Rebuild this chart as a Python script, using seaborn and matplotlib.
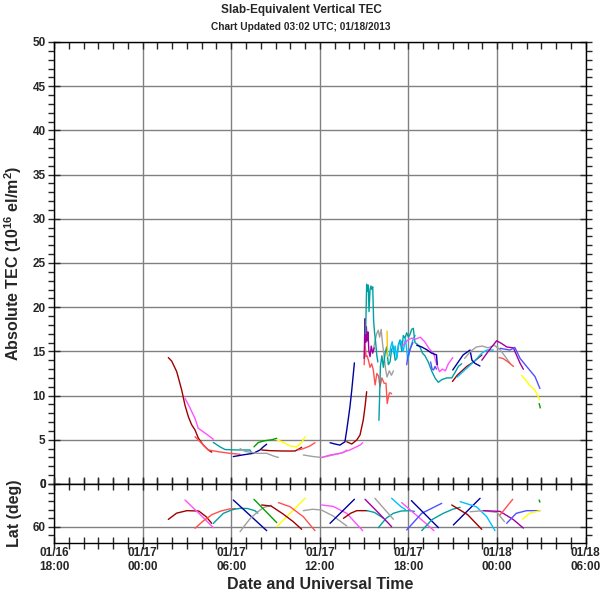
import numpy as np
import pandas as pd
import seaborn as sns
import matplotlib.pyplot as plt
from matplotlib.ticker import MultipleLocator, FixedLocator

# hours are counted from 01/17 00:00 UTC
x_ticks = [-6, 0, 6, 12, 18, 24, 30]
x_labels = ['01/16\n18:00', '01/17\n00:00', '01/17\n06:00', '01/17\n12:00',
            '01/17\n18:00', '01/18\n00:00', '01/18\n06:00']

# colours of the satellite tracks
colors = {'dkred': '#a00000', 'red': '#ff5050', 'pink': '#ff50ff', 'teal': '#00a0a0',
          'navy': '#0000a0', 'green': '#00a000', 'yellow': '#ffff00', 'gray': '#a0a0a0',
          'purple': '#a000a0', 'cyan': '#00c0ff', 'violet': '#5050ff', 'gold': '#ffc000'}

# ---- absolute TEC tracks ----
dkred1_h = [1.74, 1.97, 2.31, 2.65, 2.87, 3.1, 3.32, 3.55, 3.77, 4.11, 4.45, 4.68]
dkred1_tec = [14.3, 13.9, 12.7, 10.6, 8.9, 7.6, 6.7, 6.1, 5.2, 4.4, 3.85, 3.6]
pink1_h = [2.87, 3.21, 3.55, 3.77, 4.11, 4.56, 4.79]
pink1_tec = [9.7, 8.6, 7.4, 6.3, 5.9, 5.35, 5.05]
red1_h = [3.55, 4.0, 4.45, 5.13, 5.92, 6.6]
red1_tec = [5.35, 4.6, 3.85, 3.65, 3.47, 3.36]
teal1_h = [4.79, 5.24, 5.58, 6.37, 7.27, 7.39]
teal1_tec = [4.7, 4.2, 3.9, 3.85, 3.85, 3.47]
navy1_h = [6.14, 6.82, 7.5, 7.95, 8.17, 8.4]
navy1_tec = [3.1, 3.3, 3.47, 3.85, 4.2, 4.5]
gray1_h = [6.6, 6.93, 7.72, 8.4, 8.85, 9.19]
gray1_tec = [4.0, 3.7, 3.47, 3.47, 3.17, 3.0]
green1_h = [7.54, 7.84, 8.29, 8.74, 9.08]
green1_tec = [4.2, 4.7, 4.9, 5.0, 5.17]
yellow1_h = [9.08, 9.42, 9.98, 10.43, 10.77, 11.0]
yellow1_tec = [5.0, 4.8, 4.3, 4.2, 4.7, 5.35]
dkred2_h = [8.06, 8.63, 9.53, 10.32, 10.54, 10.77]
dkred2_tec = [3.85, 3.77, 3.73, 3.73, 3.92, 4.15]
red2_h = [10.54, 10.88, 11.33, 11.67]
red2_tec = [3.85, 4.0, 4.3, 4.67]
gray2_h = [10.88, 11.56, 12.13, 12.9, 13.59, 13.82]
gray2_tec = [3.28, 3.1, 3.0, 3.28, 3.55, 3.85]
pink2_h = [12.13, 12.69, 13.36, 14.04, 14.72, 14.9]
pink2_tec = [3.0, 3.28, 3.47, 3.85, 4.4, 4.67]
navy2_h = [12.69, 13.03, 13.36, 13.7, 13.82, 13.93, 14.04, 14.16, 14.27, 14.34]
navy2_tec = [4.67, 4.52, 4.4, 4.78, 6.1, 7.4, 8.75, 10.6, 12.5, 13.7]
dkred3_h = [13.82, 14.16, 14.5, 14.72, 14.94, 15.06, 15.17]
dkred3_tec = [4.78, 4.52, 4.98, 5.54, 7.24, 8.75, 10.44]
teal2_h = [15.1, 15.17, 15.22, 15.28, 15.33, 15.4, 15.46, 15.52, 15.58, 15.64, 15.7,
           15.78, 15.86, 15.93]
teal2_tec = [17.0, 22.6, 21.8, 22.5, 19.5, 22.0, 22.4, 22.0, 22.3, 18.5, 17.2,
             16.0, 14.5, 13.8]
teal3_h = [16.0, 16.05, 16.1, 16.2, 16.3, 16.42, 16.52, 16.64, 16.75, 16.86, 16.98,
           17.1, 17.2, 17.32, 17.43, 17.55, 17.65, 17.77, 17.88, 18.0, 18.1, 18.22, 18.33]
teal3_tec = [7.2, 10.0, 13.3, 14.5, 13.2, 14.8, 15.5, 13.5, 13.8, 15.2, 15.6,
             14.0, 14.2, 15.8, 16.3, 15.0, 16.8, 16.5, 17.1, 16.6, 16.9, 17.5, 17.6]
teal4_h = [18.33, 18.44, 18.6, 18.78, 18.95, 19.12, 19.34, 19.57, 19.8, 20.02, 20.25,
           20.59, 20.93, 21.15, 21.38, 21.6]
teal4_tec = [17.6, 16.0, 15.8, 15.5, 14.8, 14.5, 13.8, 12.8, 12.0, 11.5, 11.8,
             12.0, 12.0, 12.6, 13.3, 13.6]
purple1_h = [15.0, 15.06, 15.1, 15.15, 15.2, 15.26, 15.32, 15.4, 15.48, 15.58, 15.68]
purple1_tec = [14.2, 18.7, 16.0, 17.8, 16.2, 17.2, 15.0, 14.4, 15.6, 14.8, 15.4]
gray3_h = [15.6, 15.75, 15.85, 15.95, 16.05, 16.15, 16.25, 16.35, 16.45, 16.55, 16.7,
           16.85, 16.98]
gray3_tec = [15.0, 16.3, 17.0, 17.4, 16.6, 17.5, 15.8, 14.5, 13.0, 12.1, 12.8, 12.3, 12.8]
red3_h = [15.0, 15.06, 15.13, 15.2, 15.29, 15.4, 15.51, 15.62, 15.74, 15.86, 15.98,
          16.07, 16.2, 16.35, 16.48, 16.56, 16.64, 16.71, 16.8, 16.86]
red3_tec = [13.5, 15.9, 14.4, 14.5, 14.0, 13.2, 13.6, 12.9, 11.2, 12.5, 12.2,
            11.0, 12.0, 11.4, 11.4, 9.1, 9.8, 10.3, 10.3, 10.2]
gold1_h = [16.55, 16.57, 16.6]
gold1_tec = [17.3, 15.5, 14.4]
cyan1_h = [16.7, 16.8, 16.9, 17.0, 17.1, 17.2, 17.35, 17.5, 17.65, 17.8, 17.95, 18.1,
           18.3, 18.45]
cyan1_tec = [14.5, 15.5, 16.1, 14.8, 15.6, 14.2, 15.8, 16.2, 15.0, 16.5, 14.0, 15.2,
             16.3, 16.8]
pink3_h = [17.6, 17.9, 18.2, 18.5, 18.8, 19.1, 19.4, 19.7, 19.9, 20.1, 20.3, 20.5,
           20.7, 21.0]
pink3_tec = [15.6, 16.2, 16.5, 16.4, 16.6, 16.1, 15.3, 14.8, 13.6, 12.7, 13.0, 12.8,
             13.6, 14.3]
navy3_h = [18.56, 18.9, 19.23, 19.57, 19.9, 19.95]
navy3_tec = [15.7, 15.5, 15.2, 14.8, 14.6, 13.5]
violet1_h = [17.88, 17.95, 18.1, 18.3]
violet1_tec = [13.5, 14.3, 15.2, 16.0]
violet2_h = [19.5, 19.6, 19.7, 19.8, 19.9]
violet2_tec = [13.8, 13.0, 12.9, 13.3, 13.0]
dkred4_h = [20.98, 21.3, 21.95, 22.4, 22.97]
dkred4_tec = [11.6, 12.3, 13.3, 13.8, 14.6]
navy4_h = [21.0, 21.7, 22.17, 22.3, 22.5, 22.84]
navy4_tec = [12.9, 14.6, 15.15, 14.0, 13.65, 13.35]
cyan2_h = [21.3, 21.95, 22.4, 22.97, 23.3, 23.75]
cyan2_tec = [12.1, 13.1, 13.8, 14.8, 15.15, 15.15]
gray4_h = [21.8, 22.2, 22.6, 23.0, 23.4, 23.8, 24.2, 24.6, 24.9]
gray4_tec = [14.2, 15.0, 15.5, 15.6, 15.4, 15.7, 15.2, 14.3, 13.6]
purple2_h = [22.97, 23.4, 23.97, 24.3, 24.66, 25.1, 25.56, 25.78]
purple2_tec = [14.0, 15.0, 16.2, 15.9, 15.5, 15.4, 13.65, 12.98]
red4_h = [24.13, 24.4, 24.75, 25.11]
red4_tec = [14.3, 14.2, 13.8, 13.3]
violet3_h = [24.2, 24.87, 25.2, 25.56, 26.0, 26.57, 26.9]
violet3_tec = [15.35, 15.15, 15.45, 14.2, 13.3, 12.15, 10.8]
yellow2_h = [25.66, 26.2, 26.57, 26.9]
yellow2_tec = [12.3, 11.2, 10.6, 9.5]
green2_h = [26.85, 26.9, 26.92]
green2_tec = [9.1, 8.8, 8.6]

# ---- latitude of the pierce points ----
dkred1_lh = [1.74, 2.3, 3.0, 3.8, 4.3, 4.68]
dkred1_lat = [49.8, 41, 37.5, 38, 46, 55.3]
pink1_lh = [2.87, 3.8, 4.79]
pink1_lat = [22.5, 41, 61.4]
red1_lh = [3.55, 4.1, 4.7, 5.3, 5.9, 6.3]
red1_lat = [62.3, 52, 43, 38, 35, 34.5]
teal1_lh = [4.79, 5.47, 6.1, 6.6, 7.1, 7.6, 7.8]
teal1_lat = [55.3, 41.2, 36, 34.2, 34.5, 37.5, 41]
navy1_lh = [6.14, 8.4]
navy1_lat = [22.5, 65.6]
gray1_lh = [6.6, 7.0, 7.3, 7.8, 8.2, 8.7]
gray1_lat = [67, 56, 48.2, 39, 33, 30]
green1_lh = [7.54, 9.08]
green1_lat = [21.5, 54.3]
yellow1_lh = [9.08, 11.0]
yellow1_lat = [60, 20.1]
dkred2_lh = [8.06, 8.7, 9.5, 10.2, 10.77]
dkred2_lat = [29.5, 31, 42, 53, 63.7]
red2_lh = [9.2, 9.98, 10.88, 11.67]
red2_lat = [26.2, 31.9, 46, 65.6]
gray2_lh = [10.88, 11.5, 12.1, 12.9, 13.82]
gray2_lat = [37.5, 35.5, 36.5, 45, 59]
pink2_lh = [12.13, 12.9, 13.82, 14.9]
pink2_lat = [29.5, 31.5, 41.2, 65.6]
navy2_lh = [12.69, 14.34]
navy2_lat = [55.3, 21.5]
dkred3_lh = [13.6, 14.1, 14.5, 15.0, 15.2]
dkred3_lat = [48.2, 41, 37.5, 37.5, 37.5]
teal2_lh = [15.2, 15.7, 16.3]
teal2_lat = [37.5, 40, 48]
teal3_lh = [15.96, 16.5, 16.98, 17.5, 18.1, 18.4]
teal3_lat = [61.4, 48, 41.2, 38, 37.5, 38.5]
purple1_lh = [15.06, 16.0, 16.86]
purple1_lat = [21.5, 41.2, 60]
gray3_lh = [15.73, 16.98]
gray3_lat = [20.1, 49.6]
cyan1_lh = [16.86, 17.5, 17.8]
cyan1_lat = [20.1, 32, 36]
pink3_lh = [17.54, 18.6, 19.73]
pink3_lat = [26.2, 45, 65.6]
violet1_lh = [17.88, 18.9, 20.25]
violet1_lat = [64.6, 41.2, 27.2]
navy3_lh = [18.2, 20.03]
navy3_lat = [23.4, 61.4]
teal4_lh = [18.9, 19.6, 20.36, 21.0, 21.5]
teal4_lat = [65.6, 50, 41.2, 35.5, 32.8]
navy4_lh = [21.04, 22.85]
navy4_lat = [57.6, 20.1]
dkred4_lh = [20.93, 22.0, 22.96]
dkred4_lat = [29.5, 43, 63.7]
cyan2_lh = [21.5, 22.6, 23.3, 23.86]
cyan2_lat = [24.8, 32, 46, 65.6]
gray4_lh = [22.17, 23.07, 24.0, 24.5]
gray4_lat = [39, 37.5, 40, 53]
purple2_lh = [23.07, 24.2, 25.1, 25.78]
purple2_lat = [37.5, 38.5, 50, 62]
red4_lh = [24.2, 25.06]
red4_lat = [43.6, 21.5]
violet3_lh = [24.65, 25.3, 26.0, 26.9]
violet3_lat = [55.3, 41.2, 37.5, 37.5]
yellow2_lh = [25.73, 26.2, 26.9]
yellow2_lat = [49.6, 41.2, 37.5]
green2_lh = [26.85, 26.9]
green2_lat = [22.5, 25.5]

tec_tracks = [
    ('dkred', dkred1_h, dkred1_tec), ('pink', pink1_h, pink1_tec), ('red', red1_h, red1_tec),
    ('teal', teal1_h, teal1_tec), ('navy', navy1_h, navy1_tec), ('gray', gray1_h, gray1_tec),
    ('green', green1_h, green1_tec), ('yellow', yellow1_h, yellow1_tec),
    ('dkred', dkred2_h, dkred2_tec), ('red', red2_h, red2_tec), ('gray', gray2_h, gray2_tec),
    ('pink', pink2_h, pink2_tec), ('navy', navy2_h, navy2_tec), ('dkred', dkred3_h, dkred3_tec),
    ('red', red3_h, red3_tec), ('gray', gray3_h, gray3_tec), ('purple', purple1_h, purple1_tec),
    ('teal', teal2_h, teal2_tec), ('teal', teal3_h, teal3_tec), ('gold', gold1_h, gold1_tec),
    ('cyan', cyan1_h, cyan1_tec), ('teal', teal4_h, teal4_tec), ('pink', pink3_h, pink3_tec),
    ('navy', navy3_h, navy3_tec), ('violet', violet1_h, violet1_tec),
    ('violet', violet2_h, violet2_tec), ('dkred', dkred4_h, dkred4_tec),
    ('cyan', cyan2_h, cyan2_tec), ('navy', navy4_h, navy4_tec), ('gray', gray4_h, gray4_tec),
    ('purple', purple2_h, purple2_tec), ('red', red4_h, red4_tec),
    ('violet', violet3_h, violet3_tec), ('yellow', yellow2_h, yellow2_tec),
    ('green', green2_h, green2_tec),
]
lat_tracks = [
    ('dkred', dkred1_lh, dkred1_lat), ('pink', pink1_lh, pink1_lat), ('red', red1_lh, red1_lat),
    ('teal', teal1_lh, teal1_lat), ('navy', navy1_lh, navy1_lat), ('gray', gray1_lh, gray1_lat),
    ('green', green1_lh, green1_lat), ('yellow', yellow1_lh, yellow1_lat),
    ('dkred', dkred2_lh, dkred2_lat), ('red', red2_lh, red2_lat), ('gray', gray2_lh, gray2_lat),
    ('pink', pink2_lh, pink2_lat), ('navy', navy2_lh, navy2_lat), ('dkred', dkred3_lh, dkred3_lat),
    ('teal', teal2_lh, teal2_lat), ('teal', teal3_lh, teal3_lat),
    ('purple', purple1_lh, purple1_lat), ('gray', gray3_lh, gray3_lat),
    ('cyan', cyan1_lh, cyan1_lat), ('pink', pink3_lh, pink3_lat),
    ('violet', violet1_lh, violet1_lat), ('navy', navy3_lh, navy3_lat),
    ('teal', teal4_lh, teal4_lat), ('navy', navy4_lh, navy4_lat),
    ('dkred', dkred4_lh, dkred4_lat), ('cyan', cyan2_lh, cyan2_lat),
    ('gray', gray4_lh, gray4_lat), ('purple', purple2_lh, purple2_lat),
    ('red', red4_lh, red4_lat), ('violet', violet3_lh, violet3_lat),
    ('yellow', yellow2_lh, yellow2_lat), ('green', green2_lh, green2_lat),
]

sns.set_style('white')
plt.rcParams['font.family'] = ['Liberation Sans', 'DejaVu Sans']
plt.rcParams['mathtext.fontset'] = 'custom'
plt.rcParams['mathtext.rm'] = 'Liberation Sans'
plt.rcParams['mathtext.bf'] = 'Liberation Sans:bold'
plt.rcParams['mathtext.default'] = 'bf'

fig = plt.figure(figsize=(6.02, 5.94), dpi=100)
ax = fig.add_axes([0.0897, 0.1852, 0.8832, 0.7441])
ax2 = fig.add_axes([0.0897, 0.0864, 0.8832, 0.0988], sharex=ax)

grid_col = '#808080'
for a in (ax, ax2):
    a.set_xlim(-6, 30)
    for s in a.spines.values():
        s.set_color('black')
        s.set_linewidth(1.0)
    a.xaxis.set_major_locator(FixedLocator(x_ticks))
    a.xaxis.set_minor_locator(MultipleLocator(1))
    a.grid(True, which='major', color=grid_col, linewidth=1.0)
    a.set_axisbelow(True)

# top panel: absolute TEC
for c, h, v in tec_tracks:
    df = pd.DataFrame({'hour': h, 'tec': v})
    sns.lineplot(data=df, x='hour', y='tec', color=colors[c], linewidth=1.0,
                 sort=False, estimator=None, ax=ax)
ax.set_ylim(0, 50)
ax.yaxis.set_major_locator(MultipleLocator(5))
ax.yaxis.set_minor_locator(MultipleLocator(1))
ax.set_ylabel('Absolute TEC (10$^{16}$ el/m$^2$)', fontsize=11.5, fontweight='bold',
              labelpad=6)
ax.set_xlabel('')
ax.tick_params(axis='x', which='both', top=True, bottom=True, direction='in',
               labelbottom=False, length=5, width=1)
ax.tick_params(axis='y', which='major', left=True, right=True, direction='inout',
               length=8, width=1, labelsize=8.5, pad=2)
ax.tick_params(axis='y', which='minor', left=True, right=True, direction='out',
               length=4, width=1)

# bottom panel: latitude
for c, h, v in lat_tracks:
    df = pd.DataFrame({'hour': h, 'lat': v})
    sns.lineplot(data=df, x='hour', y='lat', color=colors[c], linewidth=1.0,
                 sort=False, estimator=None, ax=ax2)
ax2.set_ylim(82.5, 0)
ax2.yaxis.set_major_locator(FixedLocator([0, 60]))
ax2.yaxis.set_minor_locator(FixedLocator([12, 24, 36, 48, 72]))
ax2.grid(False, axis='y')
ax2.axhline(60, color=grid_col, linewidth=1.0, zorder=0)
ax2.set_ylabel('Lat (deg)', fontsize=11.5, fontweight='bold', labelpad=8)
ax2.set_xticklabels(x_labels)
ax2.set_xlabel('Date and Universal Time', fontsize=11.5, fontweight='bold', labelpad=3)
ax2.tick_params(axis='x', which='both', top=True, bottom=True, direction='inout',
                length=8, width=1, labelsize=8.5, pad=-1)
ax2.tick_params(axis='y', which='major', left=True, right=True, direction='inout',
                length=8, width=1, labelsize=8.5, pad=2)
ax2.tick_params(axis='y', which='minor', left=True, right=True, direction='out',
                length=4, width=1)
for lab in ax.get_yticklabels() + ax2.get_yticklabels() + ax2.get_xticklabels():
    lab.set_fontweight('bold')

fig.text(0.5, 0.983, 'Slab-Equivalent Vertical TEC', ha='center', va='center',
         fontsize=8.5, fontweight='bold')
fig.text(0.5, 0.955, 'Chart Updated 03:02 UTC; 01/18/2013', ha='center', va='center',
         fontsize=7.3, fontweight='bold')

fig.savefig('out.png', dpi=100)
